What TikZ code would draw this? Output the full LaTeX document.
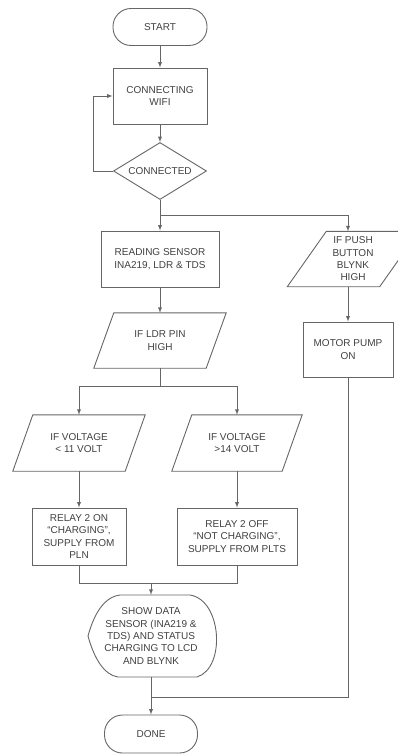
\documentclass[tikz,border=0pt]{standalone}
\usepackage{fontspec}
\setmainfont{Liberation Sans}
\usetikzlibrary{shapes.geometric}
% parallelogram outline round a plain node: #1 node, #2 half of the slant
\newcommand{\slantbox}[2]{%
   \draw[line] ([xshift=#2]#1.north west) -- ([xshift=#2]#1.north east)
      -- ([xshift=-#2]#1.south east) -- ([xshift=-#2]#1.south west) -- cycle;}

\begin{document}
\begin{tikzpicture}[x=1pt,y=-1pt,>=latex,
   every node/.style={font=\fontsize{10}{12.3}\selectfont,text=black!75,align=center,inner sep=0pt},
   line/.style={draw=black!60,line width=0.9pt},
   term/.style={line,rectangle,rounded corners=18pt,minimum width=94pt,minimum height=37pt},
   proc/.style={line,rectangle,minimum height=56pt},
   dec/.style={line,diamond,aspect=1.63,minimum width=93pt,minimum height=57pt},
   io/.style={rectangle,minimum width=112pt,minimum height=56pt}]
   \useasboundingbox (0,0) rectangle (397,754);
   % left column
   \node[term] (start) at (160,27) {START};
   \node[proc,minimum width=94pt] (wifi) at (160,96) {CONNECTING\\WIFI};
   \node[dec] (conn) at (160,171) {CONNECTED};
   \node[proc,minimum width=118pt] (read) at (160,259) {READING SENSOR\\INA219, LDR \& TDS};
   \node[io,minimum height=55pt] (ldr) at (160,340.5) {IF LDR PIN\\HIGH};
   \node[io] (lowv) at (79,443) {IF VOLTAGE\\< 11 VOLT};
   \node[io,minimum width=110pt] (highv) at (237,443) {IF VOLTAGE\\>14 VOLT};
   \node[proc,minimum width=94pt,minimum height=57pt] (relayon) at (79,536.5) {RELAY 2 ON\\``CHARGING'',\\SUPPLY FROM\\PLN};
   \node[proc,minimum width=120pt,minimum height=57pt] (relayoff) at (237,536.5) {RELAY 2 OFF\\``NOT CHARGING'',\\SUPPLY FROM PLTS};
   \node[minimum width=127pt,minimum height=82pt] (show) at (151,636) {SHOW DATA\\SENSOR (INA219 \&\\TDS) AND STATUS\\CHARGING TO LCD\\AND BLYNK};
   \node[term,minimum width=93pt,minimum height=38pt] (done) at (151,734) {DONE};
   % right column
   \node[io,minimum width=92pt,minimum height=55pt] (push) at (353,259) {IF PUSH\\BUTTON\\BLYNK\\HIGH};
   \node[proc,minimum width=90pt,minimum height=55pt] (motor) at (348,349.5) {MOTOR PUMP\\ON};
   % outlines
   \slantbox{ldr}{10pt}
   \slantbox{lowv}{10pt}
   \slantbox{highv}{10pt}
   \slantbox{push}{19.5pt}
   \draw[line] (88,636) .. controls (94,614) and (104,597) .. (120,595) -- (190,595)
      .. controls (222,600) and (226,668) .. (197,677) -- (118,677)
      .. controls (104,675) and (94,658) .. (88,636) -- cycle;
   % connectors
   \coordinate (fork) at (160,215);
   \coordinate (ldrfork) at (160,386);
   \coordinate (merge) at (151,583);
   \coordinate (join) at (151,697);
   \draw[line,->] (start) -- (wifi);
   \draw[line,->] (wifi) -- (conn);
   \draw[line,->] (conn.west) -- ++(-20,0) |- (wifi.west);
   \draw[line,->] (conn.south) -- (read.north);
   \draw[line,->] (fork) -| (motor.north |- push.north);
   \draw[line,->] (read) -- (ldr);
   \draw[line] (ldr.south) -- (ldrfork);
   \draw[line,->] (ldrfork) -| (lowv.north);
   \draw[line,->] (ldrfork) -| (highv.north);
   \draw[line,->] (lowv) -- (relayon);
   \draw[line,->] (highv) -- (relayoff);
   \draw[line] (relayon.south) |- (merge);
   \draw[line] (relayoff.south) |- (merge);
   \draw[line,->] (merge) -- (show.north);
   \draw[line,->] (push.south -| motor.north) -- (motor.north);
   \draw[line] (motor.south) |- (join);
   \draw[line,->] (show.south) -- (done.north);
\end{tikzpicture}
\end{document}
